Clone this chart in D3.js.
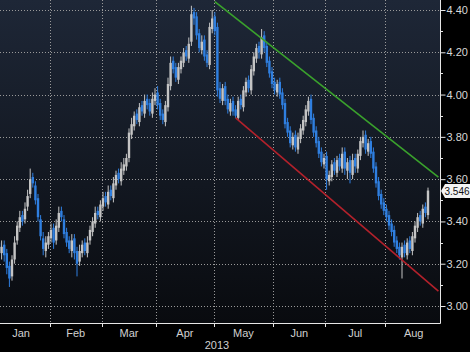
<!DOCTYPE html>
<html>
<head>
<meta charset="utf-8">
<script src="https://cdnjs.cloudflare.com/ajax/libs/d3/7.8.5/d3.min.js"></script>
<style>
  html, body { margin: 0; padding: 0; background: #000; overflow: hidden; }
  svg { display: block; }
</style>
</head>
<body>
<script>
// daily candles, first one on firstDay, one per weekday after that
const firstDay = '2013-01-04';
const monthLabels = ['Jan', 'Feb', 'Mar', 'Apr', 'May', 'Jun', 'Jul', 'Aug'];
const yearLabel = '2013';
const yTicks = [3.00, 3.20, 3.40, 3.60, 3.80, 4.00, 4.20, 4.40];
const yMinorTicks = [3.10, 3.30, 3.50, 3.70, 3.90, 4.10, 4.30];
const lastPrice = 3.546;

const opens = [
  3.30, 3.25, 3.29, 3.25, 3.19, 3.14, 3.22, 3.31, 3.37, 3.43,
  3.41, 3.47, 3.53, 3.61, 3.57, 3.51, 3.41, 3.32, 3.26, 3.29,
  3.32, 3.37, 3.31, 3.37, 3.45, 3.41, 3.35, 3.31, 3.26, 3.32,
  3.26, 3.21, 3.25, 3.30, 3.25, 3.31, 3.35, 3.39, 3.45, 3.42,
  3.47, 3.52, 3.48, 3.55, 3.51, 3.57, 3.63, 3.59, 3.64, 3.66,
  3.70, 3.81, 3.85, 3.91, 3.87, 3.95, 3.91, 3.98, 3.96, 3.91,
  3.97, 4.01, 3.96, 3.91, 3.87, 3.94, 4.04, 4.16, 4.13, 4.07,
  4.12, 4.15, 4.21, 4.17, 4.25, 4.39, 4.37, 4.29, 4.21, 4.26,
  4.19, 4.14, 4.31, 4.37, 4.32, 4.03, 3.97, 4.04, 3.98, 3.92,
  3.97, 3.93, 3.89, 3.98, 3.94, 4.01, 4.07, 4.02, 4.11, 4.17,
  4.23, 4.19, 4.28, 4.23, 4.16, 4.11, 4.06, 4.01, 4.06, 4.01,
  3.96, 3.87, 3.83, 3.76, 3.81, 3.74, 3.79, 3.83, 3.87, 3.92,
  3.98, 3.89, 3.83, 3.78, 3.73, 3.67, 3.71, 3.59, 3.61, 3.68,
  3.63, 3.70, 3.65, 3.73, 3.64, 3.69, 3.62, 3.70, 3.65, 3.71,
  3.77, 3.81, 3.73, 3.78, 3.73, 3.66, 3.59, 3.53, 3.49, 3.46,
  3.43, 3.39, 3.36, 3.31, 3.28, 3.23, 3.29, 3.24, 3.31, 3.26,
  3.32, 3.37, 3.43, 3.39, 3.47, 3.43
];
const highs = [
  3.32, 3.31, 3.31, 3.27, 3.21, 3.24, 3.33, 3.40, 3.45, 3.45,
  3.49, 3.55, 3.65, 3.63, 3.59, 3.53, 3.43, 3.35, 3.33, 3.35,
  3.39, 3.39, 3.41, 3.47, 3.47, 3.43, 3.37, 3.33, 3.34, 3.34,
  3.28, 3.29, 3.31, 3.32, 3.33, 3.38, 3.42, 3.47, 3.47, 3.50,
  3.54, 3.54, 3.57, 3.57, 3.61, 3.64, 3.65, 3.68, 3.70, 3.72,
  3.84, 3.89, 3.92, 3.93, 3.96, 3.97, 4.00, 4.00, 3.98, 4.01,
  4.03, 4.04, 3.98, 3.93, 3.97, 4.08, 4.18, 4.18, 4.15, 4.15,
  4.18, 4.22, 4.23, 4.27, 4.42, 4.41, 4.39, 4.31, 4.28, 4.28,
  4.21, 4.34, 4.40, 4.39, 4.34, 4.06, 4.05, 4.06, 4.00, 3.98,
  3.99, 3.95, 3.99, 4.00, 4.04, 4.08, 4.09, 4.14, 4.20, 4.24,
  4.25, 4.31, 4.30, 4.25, 4.18, 4.13, 4.08, 4.07, 4.08, 4.03,
  3.98, 3.89, 3.85, 3.82, 3.83, 3.82, 3.86, 3.90, 3.95, 3.99,
  4.00, 3.91, 3.85, 3.80, 3.75, 3.72, 3.73, 3.64, 3.69, 3.70,
  3.71, 3.72, 3.75, 3.75, 3.70, 3.71, 3.72, 3.72, 3.74, 3.80,
  3.83, 3.83, 3.79, 3.80, 3.75, 3.68, 3.61, 3.55, 3.51, 3.48,
  3.45, 3.41, 3.38, 3.33, 3.30, 3.30, 3.31, 3.32, 3.33, 3.35,
  3.40, 3.44, 3.45, 3.48, 3.49, 3.56
];
const lows = [
  3.24, 3.22, 3.21, 3.15, 3.09, 3.12, 3.20, 3.29, 3.35, 3.38,
  3.39, 3.45, 3.51, 3.56, 3.48, 3.40, 3.31, 3.24, 3.23, 3.27,
  3.30, 3.27, 3.29, 3.35, 3.40, 3.32, 3.28, 3.25, 3.23, 3.22,
  3.14, 3.19, 3.23, 3.24, 3.23, 3.29, 3.33, 3.37, 3.41, 3.40,
  3.45, 3.47, 3.46, 3.50, 3.49, 3.55, 3.58, 3.57, 3.62, 3.64,
  3.68, 3.79, 3.83, 3.86, 3.85, 3.90, 3.89, 3.93, 3.90, 3.89,
  3.95, 3.93, 3.88, 3.86, 3.85, 3.92, 4.02, 4.10, 4.06, 4.05,
  4.10, 4.13, 4.16, 4.15, 4.23, 4.33, 4.26, 4.20, 4.19, 4.16,
  4.13, 4.12, 4.29, 4.28, 3.99, 3.96, 3.95, 3.95, 3.91, 3.90,
  3.90, 3.89, 3.88, 3.93, 3.92, 3.99, 4.01, 4.00, 4.09, 4.15,
  4.17, 4.17, 4.20, 4.13, 4.08, 4.03, 4.00, 3.99, 3.98, 3.93,
  3.84, 3.80, 3.75, 3.74, 3.73, 3.72, 3.77, 3.81, 3.85, 3.90,
  3.86, 3.80, 3.75, 3.70, 3.66, 3.65, 3.55, 3.57, 3.59, 3.62,
  3.61, 3.64, 3.63, 3.62, 3.60, 3.58, 3.60, 3.63, 3.63, 3.69,
  3.75, 3.72, 3.71, 3.70, 3.63, 3.56, 3.50, 3.46, 3.43, 3.40,
  3.36, 3.33, 3.28, 3.25, 3.22, 3.13, 3.23, 3.22, 3.25, 3.24,
  3.30, 3.35, 3.38, 3.37, 3.42, 3.41
];
const closes = [
  3.26, 3.28, 3.24, 3.18, 3.13, 3.22, 3.30, 3.38, 3.42, 3.40,
  3.46, 3.52, 3.60, 3.58, 3.50, 3.42, 3.33, 3.27, 3.30, 3.33,
  3.36, 3.30, 3.38, 3.44, 3.42, 3.34, 3.30, 3.27, 3.31, 3.25,
  3.20, 3.26, 3.29, 3.26, 3.30, 3.36, 3.40, 3.44, 3.43, 3.48,
  3.51, 3.49, 3.54, 3.52, 3.58, 3.62, 3.60, 3.65, 3.67, 3.70,
  3.82, 3.86, 3.90, 3.88, 3.94, 3.92, 3.97, 3.95, 3.92, 3.98,
  4.00, 3.95, 3.90, 3.88, 3.95, 4.05, 4.15, 4.12, 4.08, 4.13,
  4.16, 4.20, 4.18, 4.24, 4.38, 4.36, 4.28, 4.22, 4.25, 4.18,
  4.15, 4.32, 4.36, 4.30, 4.02, 3.98, 4.03, 3.97, 3.93, 3.96,
  3.92, 3.90, 3.97, 3.95, 4.02, 4.06, 4.03, 4.12, 4.18, 4.22,
  4.20, 4.27, 4.22, 4.15, 4.10, 4.05, 4.02, 4.05, 4.00, 3.95,
  3.86, 3.82, 3.77, 3.80, 3.75, 3.80, 3.84, 3.88, 3.93, 3.97,
  3.88, 3.82, 3.77, 3.72, 3.68, 3.70, 3.60, 3.62, 3.67, 3.64,
  3.69, 3.66, 3.72, 3.65, 3.68, 3.63, 3.69, 3.66, 3.72, 3.78,
  3.80, 3.74, 3.77, 3.72, 3.65, 3.58, 3.52, 3.48, 3.45, 3.42,
  3.38, 3.35, 3.30, 3.27, 3.24, 3.28, 3.25, 3.30, 3.27, 3.33,
  3.38, 3.42, 3.40, 3.46, 3.44, 3.546
];

// trend channel drawn on the chart: [day, value] pairs
const trendHigh = [['2013-05-01', 4.44], ['2013-08-29', 3.61]];
const trendLow = [['2013-05-13', 3.89], ['2013-08-29', 3.07]];

const width = 470, height = 352;
const plot = { w: 440, h: 323 };
const dayWidth = 2.6;
const font = '"Liberation Sans", Arial, sans-serif';

const fmt = d3.timeFormat('%Y-%m-%d');
const days = d3.timeDay.range(new Date(2013, 0, 2), new Date(2013, 8, 1))
  .filter(d => d.getDay() !== 0 && d.getDay() !== 6)
  .map(fmt);

const xScale = d3.scaleBand()
  .domain(days)
  .range([-7.5, -7.5 + days.length * dayWidth])
  .padding(0);
const xc = key => xScale(key) + xScale.bandwidth() / 2;

const yScale = d3.scaleLinear()
  .domain([3.0, 4.4])
  .range([306, 10]);

const start = days.indexOf(firstDay);
const candles = closes.map((c, i) => ({
  key: days[start + i], o: opens[i], h: highs[i], l: lows[i], c: c
}));

// first weekday of every month
const monthStarts = monthLabels.map((m, i) => days.find(k => +k.slice(5, 7) === i + 1));
const monthEnds = monthStarts.slice(1).concat([null]);

const svg = d3.select('body').append('svg')
  .attr('width', width)
  .attr('height', height);

const defs = svg.append('defs');
const grad = defs.append('linearGradient')
  .attr('id', 'bg').attr('x1', 0).attr('y1', 0).attr('x2', 0).attr('y2', 1);
grad.append('stop').attr('offset', '0%').attr('stop-color', '#1e2737');
grad.append('stop').attr('offset', '100%').attr('stop-color', '#090b0f');
defs.append('clipPath').attr('id', 'clip')
  .append('rect').attr('width', plot.w).attr('height', plot.h);

svg.append('rect').attr('width', width).attr('height', height).attr('fill', '#000');
svg.append('rect').attr('width', plot.w).attr('height', plot.h).attr('fill', 'url(#bg)');

const g = svg.append('g').attr('clip-path', 'url(#clip)');

// dotted grid
g.selectAll('.hgrid')
  .data(yTicks)
  .enter().append('line')
  .attr('x1', 0).attr('x2', plot.w)
  .attr('y1', d => Math.round(yScale(d)) + 0.5)
  .attr('y2', d => Math.round(yScale(d)) + 0.5)
  .attr('stroke', '#9a9a9a').attr('stroke-dasharray', '1,2');

g.selectAll('.vgrid')
  .data(monthStarts.slice(1))
  .enter().append('line')
  .attr('x1', d => Math.round(xScale(d)) + 0.5)
  .attr('x2', d => Math.round(xScale(d)) + 0.5)
  .attr('y1', 0).attr('y2', plot.h)
  .attr('stroke', '#9a9a9a').attr('stroke-dasharray', '1,2');

// candles
const up = '#c4c4c4', down = '#2f7fe0';
const cg = g.selectAll('.candle')
  .data(candles)
  .enter().append('g');

cg.append('line')
  .attr('x1', d => xc(d.key)).attr('x2', d => xc(d.key))
  .attr('y1', d => yScale(d.h)).attr('y2', d => yScale(d.l))
  .attr('stroke', d => d.c >= d.o ? up : down)
  .attr('stroke-width', 1);

cg.append('rect')
  .attr('x', d => xc(d.key) - 1.2)
  .attr('width', 2.4)
  .attr('y', d => yScale(Math.max(d.o, d.c)))
  .attr('height', d => Math.max(1, Math.abs(yScale(d.o) - yScale(d.c))))
  .attr('fill', d => d.c >= d.o ? up : down);

// trend channel
const trendLine = d3.line().x(d => xc(d[0])).y(d => yScale(d[1]));
g.append('path').datum(trendHigh)
  .attr('d', trendLine).attr('stroke', '#3aa22c').attr('stroke-width', 1.6).attr('fill', 'none');
g.append('path').datum(trendLow)
  .attr('d', trendLine).attr('stroke', '#b3212b').attr('stroke-width', 1.6).attr('fill', 'none');

// right axis
const axisColor = '#e6e6e6';
svg.append('line')
  .attr('x1', plot.w + 0.5).attr('x2', plot.w + 0.5)
  .attr('y1', 0).attr('y2', plot.h + 0.5)
  .attr('stroke', axisColor);

const yAxis = svg.append('g')
  .attr('transform', `translate(${plot.w + 0.5}, 0)`)
  .call(d3.axisRight(yScale).tickValues(yTicks).tickFormat(d3.format('.2f')).tickSize(5).tickPadding(1));
yAxis.select('.domain').remove();
yAxis.selectAll('.tick line').attr('stroke', axisColor);
yAxis.selectAll('.tick text')
  .attr('fill', '#d8d8d8')
  .style('font', `11px ${font}`);

svg.selectAll('.minor')
  .data(yMinorTicks)
  .enter().append('line')
  .attr('x1', plot.w).attr('x2', plot.w + 3)
  .attr('y1', d => Math.round(yScale(d)) + 0.5)
  .attr('y2', d => Math.round(yScale(d)) + 0.5)
  .attr('stroke', axisColor);

// bottom axis
svg.append('line')
  .attr('x1', 0).attr('x2', plot.w + 0.5)
  .attr('y1', plot.h + 0.5).attr('y2', plot.h + 0.5)
  .attr('stroke', axisColor);

svg.selectAll('.mtick')
  .data(monthStarts.slice(1))
  .enter().append('line')
  .attr('x1', d => Math.round(xScale(d)) + 0.5)
  .attr('x2', d => Math.round(xScale(d)) + 0.5)
  .attr('y1', plot.h).attr('y2', plot.h + 4)
  .attr('stroke', axisColor);

svg.selectAll('.mlabel')
  .data(monthLabels)
  .enter().append('text')
  .attr('x', (d, i) => {
    const a = xScale(monthStarts[i]);
    const b = monthEnds[i] ? xScale(monthEnds[i]) : xScale.range()[1];
    return (a + b) / 2;
  })
  .attr('y', 337)
  .attr('text-anchor', 'middle')
  .attr('fill', '#d0d0d0')
  .style('font', `11px ${font}`)
  .text(d => d);

svg.append('text')
  .attr('x', 217).attr('y', 349)
  .attr('text-anchor', 'middle')
  .attr('fill', '#d0d0d0')
  .style('font', `11px ${font}`)
  .text(yearLabel);

// last price tag
const tag = svg.append('g')
  .attr('transform', `translate(${plot.w + 1}, ${Math.round(yScale(lastPrice))})`);
tag.append('path')
  .attr('d', 'M0,0 L4,-7 H29 V7 H4 Z')
  .attr('fill', '#f4f4f4');
tag.append('text')
  .attr('x', 3.5).attr('y', 3.5)
  .attr('fill', '#111')
  .style('font', `10px ${font}`)
  .text(d3.format('.3f')(lastPrice));
</script>
</body>
</html>
